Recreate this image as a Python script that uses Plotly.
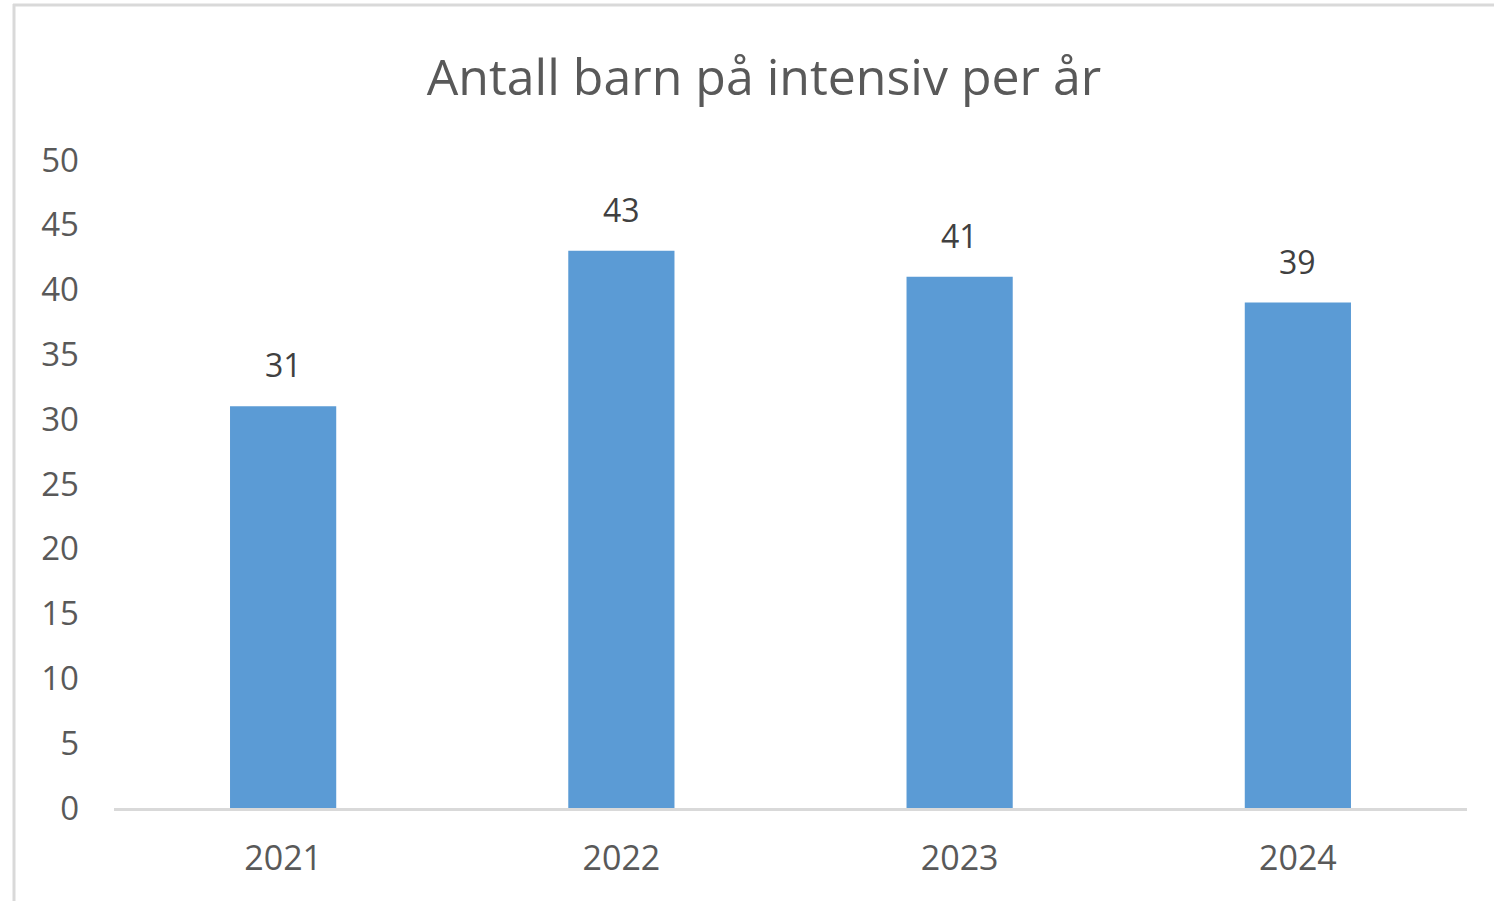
import plotly.graph_objects as go

years = ["2021", "2022", "2023", "2024"]
counts = [31, 43, 41, 39]
y_ticks = [0, 5, 10, 15, 20, 25, 30, 35, 40, 45, 50]

W, H = 1494, 901
L, R, T, B = 114, 27, 160, 93

fig = go.Figure()
fig.add_trace(go.Bar(
    x=years, y=counts,
    marker=dict(color="#5B9BD5", line=dict(width=0)),
    hoverinfo="skip",
))

# value labels above bars (category index used for position on category axis)
for i, v in enumerate(counts):
    fig.add_annotation(x=i, y=v, text=str(v), showarrow=False,
                       yanchor="bottom", yshift=18,
                       font=dict(family="Open Sans", size=32, color="#404040"))

# chart frame (left and top edges visible in reference)
pw = W - L - R
ph = H - T - B
def px(xp): return (xp - L) / pw
def py(yp): return (H - B - yp) / ph
fig.add_shape(type="line", xref="paper", yref="paper",
              x0=px(14), x1=px(14), y0=py(4), y1=py(H + 5),
              line=dict(color="#D9D9D9", width=3))
fig.add_shape(type="line", xref="paper", yref="paper",
              x0=px(13), x1=px(W + 5), y0=py(5), y1=py(5),
              line=dict(color="#D9D9D9", width=3))

fig.update_layout(
    width=W, height=H,
    margin=dict(l=L, r=R, t=T, b=B),
    paper_bgcolor="white", plot_bgcolor="white",
    bargap=0.686,
    showlegend=False,
    title=dict(text="Antall barn på intensiv per år",
               x=764 / W, xanchor="center",
               y=1 - 77 / H, yanchor="middle",
               font=dict(family="Open Sans", size=50, color="#595959")),
    xaxis=dict(type="category", range=[-0.5, len(years) - 0.5],
               showgrid=False, showline=True,
               linecolor="#D9D9D9", linewidth=3,
               ticks="", tickfont=dict(family="Open Sans", size=34, color="#595959"),
               ticklabelstandoff=18),
    yaxis=dict(range=[0, 50], tickvals=y_ticks, showgrid=False, zeroline=False,
               showline=False, ticks="",
               tickfont=dict(family="Open Sans", size=33, color="#595959"),
               ticklabelstandoff=34),
)

fig.write_html("out.html", config={"displayModeBar": False},
               post_script="document.body.style.margin='0';document.body.style.overflow='hidden';")
